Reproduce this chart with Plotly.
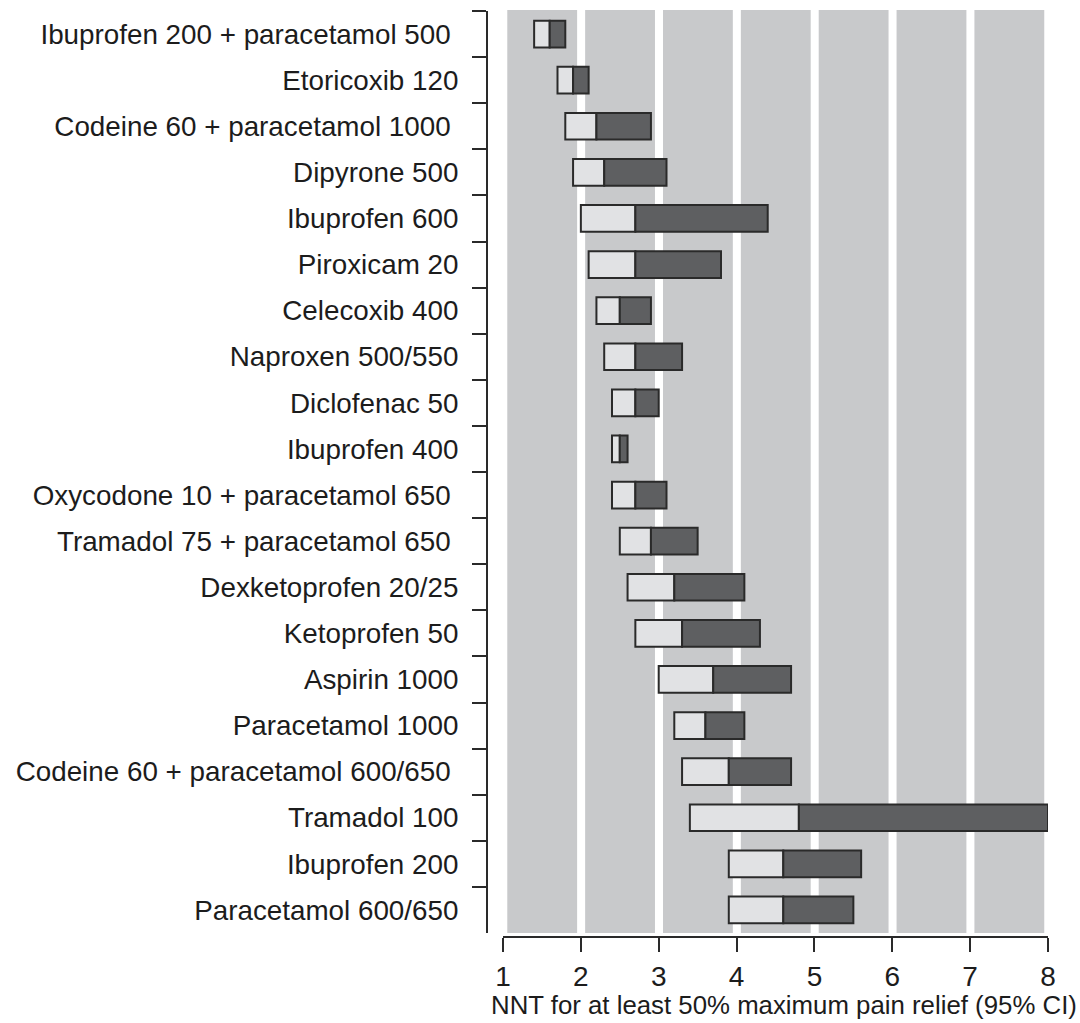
import plotly.graph_objects as go

NB = "\u00a0"
drugs = [
    "Ibuprofen 200 + paracetamol 500" + NB,
    "Etoricoxib 120",
    "Codeine 60 + paracetamol 1000" + NB,
    "Dipyrone 500",
    "Ibuprofen 600",
    "Piroxicam 20",
    "Celecoxib 400",
    "Naproxen 500/550",
    "Diclofenac 50",
    "Ibuprofen 400",
    "Oxycodone 10 + paracetamol 650" + NB,
    "Tramadol 75 + paracetamol 650" + NB,
    "Dexketoprofen 20/25",
    "Ketoprofen 50",
    "Aspirin 1000",
    "Paracetamol 1000",
    "Codeine 60 + paracetamol 600/650" + NB,
    "Tramadol 100",
    "Ibuprofen 200",
    "Paracetamol 600/650",
]
lower = [1.4, 1.7, 1.8, 1.9, 2.0, 2.1, 2.2, 2.3, 2.4, 2.4, 2.4, 2.5, 2.6, 2.7, 3.0, 3.2, 3.3, 3.4, 3.9, 3.9]
nnt   = [1.6, 1.9, 2.2, 2.3, 2.7, 2.7, 2.5, 2.7, 2.7, 2.5, 2.7, 2.9, 3.2, 3.3, 3.7, 3.6, 3.9, 4.8, 4.6, 4.6]
upper = [1.8, 2.1, 2.9, 3.1, 4.4, 3.8, 2.9, 3.3, 3.0, 2.6, 3.1, 3.5, 4.1, 4.3, 4.7, 4.1, 4.7, 8.0, 5.6, 5.5]
x_ticks = [1, 2, 3, 4, 5, 6, 7, 8]
x_title = "NNT for at least 50% maximum pain relief (95% CI)"

LIGHT = "#e1e2e4"
DARK = "#5e5f61"
BAND = "#c8c9cb"
INK = "#2a2a2a"

fig = go.Figure()
fig.add_trace(go.Bar(
    y=drugs, x=[n - l for n, l in zip(nnt, lower)], base=lower,
    orientation="h", width=0.58,
    marker=dict(color=LIGHT, line=dict(color=INK, width=2)),
    showlegend=False, hoverinfo="skip",
))
fig.add_trace(go.Bar(
    y=drugs, x=[u - n for u, n in zip(upper, nnt)], base=nnt,
    orientation="h", width=0.58,
    marker=dict(color=DARK, line=dict(color=INK, width=2)),
    showlegend=False, hoverinfo="skip",
))

shapes = []
for i in x_ticks[:-1]:
    shapes.append(dict(type="rect", xref="x", yref="y domain",
                       x0=i + 0.055, x1=i + 0.952, y0=0, y1=1.001,
                       fillcolor=BAND, line=dict(width=0), layer="below"))

L, R, T, B = 487, 32, 11, 86
W, H = 1080, 1023
pw = W - L - R
ph = H - T - B

fig.update_layout(
    width=W, height=H,
    margin=dict(l=L, r=R, t=T, b=B, autoexpand=False),
    paper_bgcolor="white", plot_bgcolor="white",
    barmode="overlay",
    shapes=shapes,
    font=dict(family="Liberation Sans, Arial, sans-serif", color="#1c1c1c"),
    xaxis=dict(
        domain=[16 / pw, 1], anchor="free", position=0, automargin=False,
        range=[1, 8], tickvals=x_ticks, ticktext=[str(t) for t in x_ticks],
        showline=True, linecolor=INK, linewidth=2,
        ticks="outside", ticklen=14, tickwidth=2, tickcolor=INK,
        tickfont=dict(size=28), showgrid=False, zeroline=False,
    ),
    yaxis=dict(
        domain=[4 / ph, 1], anchor="free", position=0, automargin=False,
        type="category", categoryorder="array", categoryarray=drugs,
        range=[len(drugs) - 0.5, -0.5],
        showline=True, linecolor=INK, linewidth=2,
        ticks="outside", ticklen=14, tickwidth=2, tickcolor=INK,
        tickson="boundaries", tickfont=dict(size=27.8),
        ticklabelstandoff=22, showgrid=False, zeroline=False,
    ),
    annotations=[dict(
        text=x_title, xref="paper", yref="paper",
        x=(784 - L) / pw, y=-(1005 - (T + ph)) / ph,
        xanchor="center", yanchor="middle", showarrow=False,
        font=dict(size=25.8),
    )],
)

fig.write_html(
    "out.html",
    config={"displayModeBar": False, "staticPlot": True},
    post_script="document.body.style.margin='0';document.body.style.overflow='hidden';",
)
